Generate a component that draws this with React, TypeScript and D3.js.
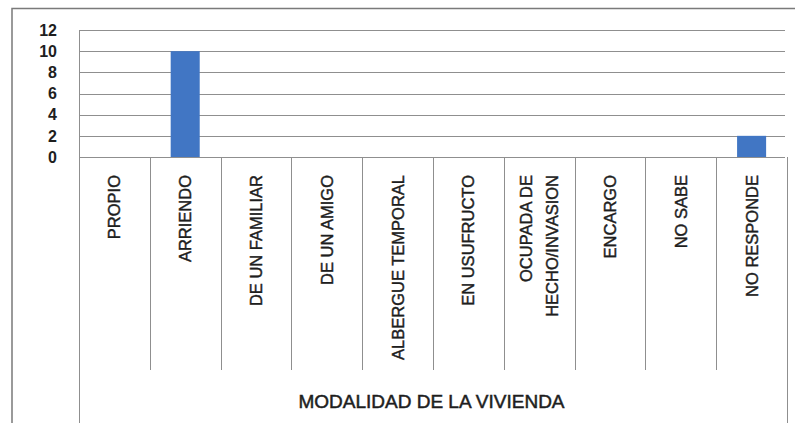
import React from "react";
import * as d3 from "d3";

const categories: string[] = [
  "PROPIO",
  "ARRIENDO",
  "DE UN FAMILIAR",
  "DE UN AMIGO",
  "ALBERGUE TEMPORAL",
  "EN USUFRUCTO",
  "OCUPADA DE\nHECHO/INVASION",
  "ENCARGO",
  "NO SABE",
  "NO RESPONDE",
];
const values: number[] = [0, 10, 0, 0, 0, 0, 0, 0, 0, 2];
const yTicks: number[] = [0, 2, 4, 6, 8, 10, 12];
const axisTitle = "MODALIDAD DE LA VIVIENDA";

const W = 795;
const H = 423;
const plotLeft = 79;
const plotRight = 787;
const plotTop = 30;
const plotBottom = 157;
const sepBottom = 370;
const labelTop = 175;

export default function App() {
  const x = d3.scaleBand<string>().domain(categories).range([plotLeft, plotRight]).padding(0);
  const y = d3.scaleLinear().domain([0, 12]).range([plotBottom, plotTop]);
  const bw = x.bandwidth();
  const barW = bw * 0.41;
  const font = "'Liberation Sans', Arial, sans-serif";
  const textColor = "#1e1e1e";
  const lineColor = "#8f8f8f";

  return (
    <svg
      width={W}
      height={H}
      style={{ position: "absolute", left: 0, top: 0, background: "#fff" }}
      fontFamily={font}
    >
      <rect x={0} y={0} width={W} height={H} fill="#fff" />
      {/* outer chart border (cropped at right/bottom) */}
      <rect x={12} y={8.5} width={W + 20} height={H + 20} fill="none" stroke="#7a7a7a" strokeWidth={1.5} />

      {/* gridlines */}
      {yTicks.map((t) => (
        <line key={"g" + t} x1={plotLeft} x2={plotRight - 2} y1={Math.round(y(t)) + 0.5} y2={Math.round(y(t)) + 0.5} stroke={lineColor} strokeWidth={1} />
      ))}

      {/* y tick labels */}
      {yTicks.map((t) => (
        <text key={"yl" + t} x={57} y={y(t)} dy="0.36em" textAnchor="end" fontSize={16} fontWeight="bold" fill={textColor}>
          {t}
        </text>
      ))}

      {/* left axis line */}
      <line x1={plotLeft + 0.5} x2={plotLeft + 0.5} y1={plotTop} y2={H + 5} stroke={lineColor} strokeWidth={1} />
      {/* right closing line of category axis */}
      <line x1={plotRight + 0.5} x2={plotRight + 0.5} y1={plotBottom} y2={H + 5} stroke={lineColor} strokeWidth={1} />

      {/* category separators */}
      {categories.slice(1).map((c) => (
        <line key={"s" + c} x1={Math.round(x(c)!) + 0.5} x2={Math.round(x(c)!) + 0.5} y1={plotBottom} y2={sepBottom} stroke={lineColor} strokeWidth={1} />
      ))}

      {/* bars */}
      {categories.map((c, i) =>
        values[i] > 0 ? (
          <rect
            key={"b" + c}
            x={x(c)! + bw / 2 - barW / 2}
            y={y(values[i])}
            width={barW}
            height={y(0) - y(values[i])}
            fill="#4176c4"
          />
        ) : null
      )}

      {/* category labels */}
      {categories.map((c) => {
        const lines = c.split("\n");
        const cx = x(c)! + bw / 2;
        const gap = 26;
        return (
          <g key={"l" + c} transform={`translate(${cx},${labelTop}) rotate(-90)`}>
            {lines.map((ln, j) => (
              <text
                key={j}
                x={0}
                y={(j - (lines.length - 1) / 2) * gap}
                dy="0.36em"
                textAnchor="end"
                fontSize={16.5}
                fill={textColor}
                stroke={textColor}
                strokeWidth={0.45}
              >
                {ln}
              </text>
            ))}
          </g>
        );
      })}

      {/* axis title */}
      <text x={431.5} y={408} textAnchor="middle" fontSize={19} fill={textColor} stroke={textColor} strokeWidth={0.5}>
        {axisTitle}
      </text>
    </svg>
  );
}
